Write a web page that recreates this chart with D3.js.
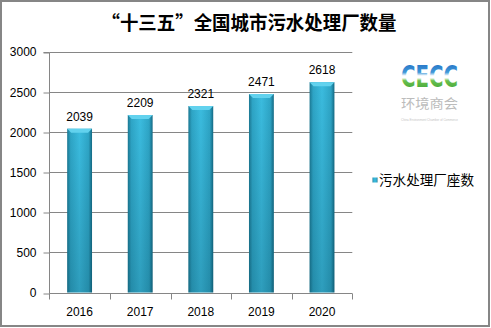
<!DOCTYPE html>
<html><head><meta charset="utf-8">
<script src="https://cdn.jsdelivr.net/npm/d3@7"></script>
<style>body{margin:0;background:#fff}svg{display:block}</style>
</head><body><div id="chart"></div>
<script>
const title = "“十三五”全国城市污水处理厂数量";
const seriesName = "污水处理厂座数";
const categories = ["2016","2017","2018","2019","2020"];
const values = [2039,2209,2321,2471,2618];
const yTicks = [0,500,1000,1500,2000,2500,3000];

const W=491,H=328;
const svg=d3.select("#chart").append("svg").attr("width",W).attr("height",H);
const defs=svg.append("defs");
const g1=defs.append("linearGradient").attr("id","barH").attr("x1","0").attr("x2","1").attr("y1","0").attr("y2","0");
[["0%","#1b7893"],["14%","#2ea5c6"],["50%","#3bbcdf"],["86%","#2ea5c6"],["100%","#146a84"]].forEach(s=>g1.append("stop").attr("offset",s[0]).attr("stop-color",s[1]));
const g2=defs.append("linearGradient").attr("id","barV").attr("x1","0").attr("x2","0").attr("y1","0").attr("y2","1");
[["0%","#003040",0],["100%","#003040",0.22]].forEach(s=>g2.append("stop").attr("offset",s[0]).attr("stop-color",s[1]).attr("stop-opacity",s[2]));
const g3=defs.append("linearGradient").attr("id","logo").attr("x1","0").attr("x2","0").attr("y1","0").attr("y2","1");
[["0%","#1a62be"],["38%","#3f98d8"],["48%","#ffffff"],["54%","#ffffff"],["62%","#6cc04c"],["100%","#2b9a36"]].forEach(s=>g3.append("stop").attr("offset",s[0]).attr("stop-color",s[1]));

svg.append("rect").attr("x",1).attr("y",1).attr("width",488).attr("height",325).attr("fill","#fff").attr("stroke","#868686").attr("stroke-width",2);

svg.append("text").attr("x",249).attr("y",30).attr("text-anchor","middle")
  .attr("font-family","'Noto Sans CJK SC',sans-serif").attr("font-weight","bold").attr("font-size",19)
  .attr("textLength",295).attr("lengthAdjust","spacingAndGlyphs").attr("fill","#000").text(title);

const x=d3.scaleBand().domain(categories).range([49.3,352.3]).paddingInner(0.59).paddingOuter(0.295);
const y=d3.scaleLinear().domain([0,3000]).range([292.5,51.5]);

const font="'Liberation Sans',Arial,sans-serif";
// grid
svg.append("g").selectAll("line").data(yTicks.filter(d=>d>0)).join("line")
  .attr("x1",49.5).attr("x2",352.3).attr("y1",d=>Math.round(y(d))+0.5).attr("y2",d=>Math.round(y(d))+0.5)
  .attr("stroke","#868686").attr("stroke-width",1);

// y axis
const ya=svg.append("g").attr("transform","translate(49.5,0.5)")
  .call(d3.axisLeft(y).tickValues(yTicks).tickSize(6).tickPadding(7).tickFormat(d3.format("d")));
ya.select(".domain").attr("stroke","#868686").attr("d",`M-6,${Math.round(y(3000))}H0V${Math.round(y(0))}`);
ya.selectAll(".tick line").attr("stroke","#868686").attr("transform",d=>`translate(0,${Math.round(y(d))-y(d)})`);
ya.selectAll(".tick text").attr("font-family",font).attr("font-size",12).attr("fill","#000");

// x axis
const xa=svg.append("g").attr("transform",`translate(0,${Math.round(y(0))+0.5})`);
xa.append("line").attr("x1",49.3).attr("x2",352.3).attr("stroke","#868686");
const bounds=categories.map((c,i)=>49.3+i*x.step()).concat([352.3]);
xa.selectAll("line.t").data(bounds).join("line").attr("class","t")
  .attr("x1",d=>Math.round(d)+0.5).attr("x2",d=>Math.round(d)+0.5).attr("y1",0).attr("y2",6).attr("stroke","#868686");
xa.selectAll("text").data(categories).join("text")
  .attr("x",d=>x(d)+x.bandwidth()/2).attr("y",22).attr("text-anchor","middle")
  .attr("font-family",font).attr("font-size",12).attr("fill","#000").text(d=>d);

// bars
const bars=svg.append("g");
const data=categories.map((c,i)=>({c,v:values[i]}));
bars.selectAll("rect.b").data(data).join("rect").attr("class","b")
  .attr("x",d=>x(d.c)).attr("width",x.bandwidth()).attr("y",d=>y(d.v)).attr("height",d=>y(0)-y(d.v)).attr("fill","url(#barH)");
bars.selectAll("rect.s").data(data).join("rect").attr("class","s")
  .attr("x",d=>x(d.c)).attr("width",x.bandwidth()).attr("y",d=>y(d.v)).attr("height",d=>y(0)-y(d.v)).attr("fill","url(#barV)");
bars.selectAll("path.bev").data(data).join("path").attr("class","bev")
  .attr("d",d=>{const x0=x(d.c),x1=x0+x.bandwidth(),t=y(d.v),b=4;return `M${x0},${t}H${x1}L${x1-b},${t+b}H${x0+b}Z`;})
  .attr("fill","#62d2ee");
bars.selectAll("text").data(data).join("text")
  .attr("x",d=>x(d.c)+x.bandwidth()/2).attr("y",d=>y(d.v)-8).attr("text-anchor","middle")
  .attr("font-family",font).attr("font-size",12).attr("fill","#000").text(d=>d.v);

// legend
svg.append("rect").attr("x",372.5).attr("y",177.5).attr("width",5).attr("height",5).attr("fill","url(#barH)");
svg.append("text").attr("x",379).attr("y",184.5).attr("font-family","'Noto Sans CJK SC',sans-serif")
  .attr("font-size",13.5).attr("textLength",95).attr("lengthAdjust","spacingAndGlyphs").attr("fill","#000").text(seriesName);

// logo
svg.append("text").attr("x",401).attr("y",87).attr("font-family","'DejaVu Sans',sans-serif").attr("font-weight","bold")
  .attr("font-size",30).attr("textLength",57).attr("lengthAdjust","spacingAndGlyphs").attr("fill","url(#logo)").text("CECC");
svg.append("text").attr("x",401).attr("y",108).attr("font-family","'Noto Sans CJK SC',sans-serif")
  .attr("font-size",13).attr("textLength",57).attr("lengthAdjust","spacingAndGlyphs").attr("fill","#bcbcbc").text("环境商会");
svg.append("text").attr("x",401).attr("y",121).attr("font-family",font)
  .attr("font-size",3.5).attr("textLength",57).attr("lengthAdjust","spacingAndGlyphs").attr("fill","#c4c4c4").text("China Environment Chamber of Commerce");
</script></body></html>
